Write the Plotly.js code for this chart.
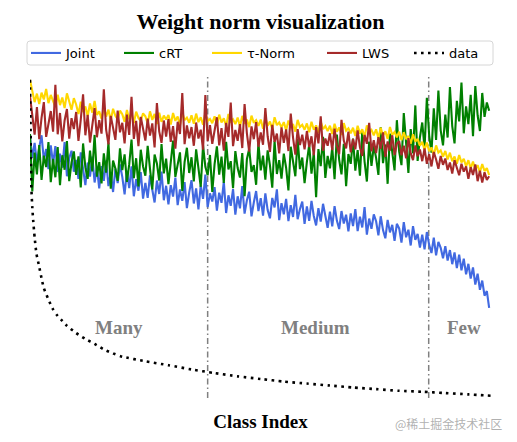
<!DOCTYPE html>
<html>
<head>
<meta charset="utf-8">
<script src="https://cdn.plot.ly/plotly-3.0.1.min.js"></script>
<style>html,body{margin:0;padding:0;background:#fff;}#chart{width:517px;height:442px;}</style>
</head>
<body>
<div id="chart"></div>
<script>
// Class indices (sampled every 5 classes of 1000, sorted by training frequency)
const classIdx = Array.from({length: 200}, (_, i) => i * 5);

// Weight norm (scaled) per class
const joint = [
79.5,73.2,77.8,71.6,76.4,80.1,72.5,75.9,69.8,77.0,
71.4,76.8,68.9,74.5,70.2,78.0,67.6,73.1,75.4,69.0,
72.6,66.8,74.9,69.4,64.9,71.8,67.5,73.6,65.7,70.3,
63.9,70.7,66.2,72.4,64.6,68.8,62.8,69.9,65.5,71.2,
67.4,62.1,69.3,64.0,70.6,61.5,66.7,63.2,68.9,60.8,
65.6,61.0,67.9,63.5,59.6,66.3,62.2,69.0,60.3,64.7,
59.0,64.9,61.4,67.2,58.8,63.6,60.1,65.8,57.9,62.7,
66.4,59.3,63.9,57.5,64.8,60.7,68.1,58.2,62.4,59.9,
64.3,57.1,62.6,59.5,66.0,56.4,61.8,58.6,63.7,55.9,
61.5,57.8,64.6,56.2,60.3,62.9,55.4,59.6,63.1,57.0,
60.9,55.6,62.4,57.3,54.8,61.0,58.1,63.6,54.2,59.4,
56.0,60.7,53.9,58.8,55.2,61.9,54.5,57.6,59.9,53.1,
58.4,54.0,60.1,55.5,52.6,57.9,53.8,59.2,55.0,51.9,
56.8,52.3,58.5,54.1,51.5,57.0,53.2,55.9,50.8,56.3,
52.4,57.6,50.9,55.3,52.0,58.2,49.8,54.7,51.6,56.0,
53.9,49.6,55.4,51.2,48.7,54.3,50.5,52.8,47.9,53.1,
51.7,47.4,53.6,49.0,51.3,46.5,52.4,48.2,50.0,45.9,
49.8,45.3,50.6,46.7,44.2,48.9,43.5,47.6,45.8,42.6,
46.3,41.9,45.1,40.8,44.4,39.6,43.7,38.9,42.5,37.7,
40.9,36.4,39.8,34.6,37.9,33.0,35.8,31.2,32.6,27.5
];
const crt = [
80.5,63.0,74.8,68.2,77.1,66.5,73.9,70.4,78.0,65.8,
72.9,67.3,76.5,64.9,74.0,69.6,78.3,66.1,71.8,75.2,
68.0,73.7,64.2,77.6,70.3,66.8,75.4,69.1,80.2,67.5,
71.9,65.4,74.6,68.7,77.9,63.8,72.4,70.0,66.2,76.1,
69.5,74.3,65.9,71.2,78.8,67.0,73.1,64.5,75.7,70.6,
67.8,76.9,69.9,63.6,74.2,71.5,66.3,77.4,68.5,73.0,
65.2,72.7,78.5,67.4,70.8,74.9,63.1,71.9,76.3,68.6,
73.4,66.0,75.8,69.2,64.4,77.0,70.5,67.9,74.1,62.8,
71.3,76.7,68.1,73.6,65.6,78.1,69.7,72.2,64.0,75.3,
70.1,67.2,74.7,61.5,72.8,76.0,68.9,71.0,65.0,77.8,
69.4,73.9,66.6,75.5,70.9,64.1,78.4,68.3,72.5,66.9,
74.5,70.2,63.3,76.6,71.7,67.6,79.0,69.8,73.3,65.5,
72.0,77.2,68.4,74.8,61.2,75.9,70.7,79.6,67.1,73.8,
70.0,76.4,66.7,80.3,72.6,68.2,77.5,64.6,74.4,71.4,
79.1,69.3,75.6,67.8,81.4,72.1,66.0,78.2,70.8,76.9,
73.2,68.0,82.5,71.6,77.3,65.3,80.6,74.0,69.4,84.7,
75.1,71.0,86.9,77.8,68.6,82.0,74.6,89.2,72.3,79.5,
84.0,76.2,91.5,80.1,74.8,88.3,78.7,93.7,81.6,77.0,
86.4,79.4,94.8,82.9,77.6,90.6,84.3,96.2,80.7,88.9,
83.5,92.4,79.8,95.1,86.2,81.4,93.0,85.7,90.1,87.6
];
const tauNorm = [
97.0,93.5,90.2,92.8,89.6,93.1,91.0,94.2,89.9,92.4,
90.8,88.7,92.5,89.3,91.6,88.4,92.9,90.1,87.9,91.4,
89.5,86.6,90.3,87.2,88.9,85.9,89.8,87.0,90.6,86.3,
87.4,85.1,88.6,85.8,87.9,84.6,88.2,86.0,84.9,87.6,
86.5,84.2,87.8,85.0,86.9,83.8,87.3,85.4,84.4,86.8,
85.9,83.7,87.4,84.8,86.6,83.5,87.0,84.2,86.1,84.9,
86.3,83.4,86.9,84.5,85.8,83.1,87.2,84.7,85.5,83.9,
86.2,83.6,86.7,84.1,85.6,83.3,86.9,84.4,85.1,83.8,
85.9,83.2,86.4,84.0,85.3,82.9,86.6,84.3,85.0,83.5,
85.5,82.8,86.0,83.6,84.9,82.6,86.1,83.9,84.7,83.0,
84.9,82.1,85.4,83.0,84.3,81.9,85.6,83.2,84.0,82.5,
84.1,81.6,84.6,82.3,83.5,81.2,84.8,82.6,83.3,81.8,
83.7,81.0,84.2,81.8,83.1,80.8,84.3,82.0,82.9,81.4,
83.0,80.5,83.6,81.2,82.5,80.2,83.8,81.5,82.2,80.7,
82.4,79.9,83.0,80.6,81.9,79.6,83.1,80.9,81.7,80.1,
81.9,79.2,82.4,80.0,81.3,79.0,82.6,80.2,81.1,79.5,
81.2,78.6,81.0,78.9,79.9,77.5,80.4,78.2,79.0,76.9,
78.1,75.6,77.9,75.2,76.4,74.1,77.0,74.8,75.5,73.6,
75.3,72.7,74.8,72.2,73.6,71.4,74.1,71.8,72.9,70.6,
72.5,70.0,72.1,69.6,71.0,68.8,71.3,69.2,70.1,68.0
];
const lws = [
92.0,86.1,80.3,88.7,78.9,85.4,90.2,79.6,83.8,87.5,
81.2,95.5,80.4,86.9,78.2,84.6,88.1,79.1,85.3,82.0,
87.2,78.4,84.9,92.6,80.1,86.3,77.9,83.6,88.4,79.5,
84.7,80.6,94.1,81.8,77.3,86.0,82.4,78.7,87.6,81.0,
83.9,77.6,86.4,80.2,91.8,79.0,84.5,76.8,85.7,81.4,
78.5,85.2,80.0,83.7,76.4,89.9,81.3,77.8,84.6,79.7,
85.0,78.1,82.9,76.0,84.2,80.5,93.0,77.4,83.1,79.2,
82.6,76.9,84.0,79.1,81.8,75.7,92.4,78.3,83.2,77.5,
81.4,85.6,77.0,82.3,75.4,83.9,79.6,90.1,76.8,81.7,
78.4,83.5,76.2,89.6,80.7,75.1,82.8,78.9,84.1,76.6,
81.0,77.2,88.4,79.8,75.0,83.3,78.1,80.6,74.6,82.5,
77.8,81.9,75.3,86.7,79.4,74.2,82.0,77.1,80.3,75.8,
81.4,76.5,79.8,74.0,82.6,77.6,85.9,75.4,79.1,76.9,
80.7,75.6,82.1,77.0,74.3,84.8,78.5,76.1,81.2,74.9,
79.0,75.8,81.6,76.4,73.8,80.2,77.5,83.9,75.2,78.6,
74.7,79.5,76.0,81.0,73.5,78.2,75.4,80.1,74.1,77.6,
78.3,74.0,76.9,73.1,79.2,74.6,72.5,77.0,73.7,75.8,
72.2,76.1,71.4,74.3,70.6,75.0,72.7,69.9,73.8,71.1,
73.0,69.5,71.8,68.4,72.5,70.1,67.9,71.4,69.0,70.6,
66.8,70.4,68.0,71.2,66.1,69.3,65.7,68.8,66.5,67.6
];

// Training data distribution (scaled counts per class)
const dataClass = [0,1,2,3,5,7,10,14,20,25,30,40,50,60,70,80,100,120,140,160,180,200,250,300,350,400,450,500,550,600,650,700,750,800,850,900,950,999];
const dataCount = [97,85,73,64,58,54,49,44,40,36.5,33.5,30,27,25,23.5,22,19.8,18,16.5,14.8,13.6,12.6,11.2,10,8.7,7.6,6.6,5.8,5,4.4,3.8,3.2,2.7,2.2,1.9,1.5,1.1,0.7];

// Split boundaries and group labels
const splitBounds = [385, 864];
const groupNames = ["Many", "Medium", "Few"];
const groupCenters = [193, 618, 941];

const seriesNames = ["Joint", "cRT", "\u03c4-Norm", "LWS", "data"];

const W = 517, H = 442, L = 30, R = 26, T = 70, B = 44;
const pw = W - L - R, ph = H - T - B;
const px2x = p => (p - L) / pw;
const py2y = p => (H - B - p) / ph;

const lineW = 2.1;
const traces = [
  {x: classIdx, y: joint, name: seriesNames[0], line: {color: '#4169E1', width: lineW}, legend: 'legend'},
  {x: classIdx, y: crt, name: seriesNames[1], line: {color: '#008000', width: lineW}, legend: 'legend2'},
  {x: classIdx, y: tauNorm, name: seriesNames[2], line: {color: '#FFD700', width: lineW}, legend: 'legend3'},
  {x: classIdx, y: lws, name: seriesNames[3], line: {color: '#A52A2A', width: lineW}, legend: 'legend4'},
  {x: dataClass, y: dataCount, name: seriesNames[4], line: {color: '#000000', width: 2.6, dash: '2.6px,4.4px', shape: 'spline', smoothing: 0.6}, legend: 'legend5'}
].map(t => Object.assign({type: 'scatter', mode: 'lines', hoverinfo: 'skip'}, t));

const legFont = {family: 'DejaVu Sans', size: 13, color: '#000'};
const legY = py2y(53);
function leg(px) {
  return {x: px2x(px), xanchor: 'left', y: legY, yanchor: 'middle', orientation: 'h',
          bgcolor: 'rgba(0,0,0,0)', borderwidth: 0, font: legFont, itemclick: false, itemdoubleclick: false};
}

// rounded legend frame
const fx0 = px2x(27), fx1 = px2x(493), fy0 = py2y(65), fy1 = py2y(41);
const rx = 3 / pw, ry = 3 / ph;
const framePath = `M${fx0+rx},${fy0} L${fx1-rx},${fy0} Q${fx1},${fy0} ${fx1},${fy0+ry} L${fx1},${fy1-ry} Q${fx1},${fy1} ${fx1-rx},${fy1} L${fx0+rx},${fy1} Q${fx0},${fy1} ${fx0},${fy1-ry} L${fx0},${fy0+ry} Q${fx0},${fy0} ${fx0+rx},${fy0} Z`;

const shapes = splitBounds.map(b => ({
  type: 'line', xref: 'x', yref: 'paper', x0: b, x1: b, y0: 0.0, y1: 0.98,
  line: {color: '#808080', width: 1.5, dash: '6px,3px,1.5px,3px'}, layer: 'below'
}));
shapes.push({type: 'path', xref: 'paper', yref: 'paper', path: framePath,
  line: {color: '#d6d6d6', width: 1}, fillcolor: 'rgba(255,255,255,0.8)', layer: 'below'});

const annotations = groupNames.map((g, i) => ({
  x: groupCenters[i], y: 21.6, xref: 'x', yref: 'y', text: '<b>' + g + '</b>', showarrow: false,
  font: {family: 'Liberation Serif', size: 19, color: '#808080'}, xanchor: 'center', yanchor: 'middle'
}));
annotations.push({
  x: (504 - L) / pw, y: py2y(423), xref: 'paper', yref: 'paper', text: '@稀土掘金技术社区', showarrow: false,
  font: {family: 'Noto Sans CJK SC', size: 12, color: 'rgba(150,150,150,0.75)'}, xanchor: 'right', yanchor: 'middle'
});

const layout = {
  width: W, height: H,
  margin: {l: L, r: R, t: T, b: B, pad: 0},
  paper_bgcolor: '#fff', plot_bgcolor: '#fff',
  showlegend: true,
  title: {text: '<b>Weight norm visualization</b>', x: 0.5, xref: 'paper', y: 1 - 21 / H, yref: 'container', yanchor: 'middle',
          font: {family: 'Liberation Serif', size: 22, color: '#000'}},
  xaxis: {range: [0, 999], showgrid: false, zeroline: false, showline: false, showticklabels: false, ticks: '',
          title: {text: '<b>Class Index</b>', standoff: 16, font: {family: 'Liberation Serif', size: 19, color: '#000'}}, automargin: false, fixedrange: true},
  yaxis: {range: [0, 100], showgrid: false, zeroline: false, showline: false, showticklabels: false, ticks: '', automargin: false, fixedrange: true},
  legend: leg(26), legend2: leg(119), legend3: leg(207), legend4: leg(322), legend5: leg(409),
  shapes: shapes,
  annotations: annotations
};

Plotly.newPlot('chart', traces, layout, {staticPlot: true, displayModeBar: false});
</script>
</body>
</html>
